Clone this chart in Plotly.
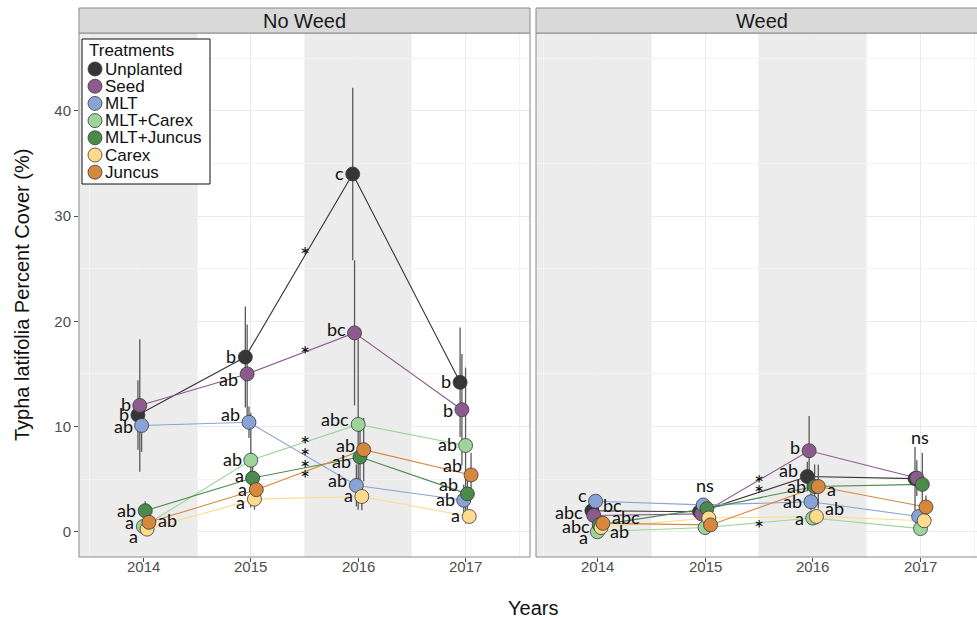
import plotly.graph_objects as go

W, H = 977, 620

years = [2014, 2015, 2016, 2017]
year_labels = ["2014", "2015", "2016", "2017"]
treatments = ["Unplanted", "Seed", "MLT", "MLT+Carex", "MLT+Juncus", "Carex", "Juncus"]
colors = ["#363636", "#8c5b8e", "#8aa3d6", "#9ed49b", "#4a8a4b", "#fcdc8c", "#d6883e"]

# No Weed panel: mean and SE per treatment
nw_unplanted = [11.1, 16.6, 34.0, 14.2]
nw_seed = [12.0, 15.0, 18.9, 11.6]
nw_mlt = [10.1, 10.4, 4.4, 3.0]
nw_mlt_carex = [0.5, 6.8, 10.2, 8.2]
nw_mlt_juncus = [2.0, 5.1, 7.1, 3.6]
nw_carex = [0.25, 3.1, 3.35, 1.45]
nw_juncus = [0.9, 4.0, 7.8, 5.4]

nw_unplanted_se = [3.3, 4.8, 8.2, 5.2]
nw_seed_se = [6.3, 4.7, 6.9, 5.3]
nw_mlt_se = [2.5, 1.5, 2.0, 1.5]
nw_mlt_carex_se = [0.5, 4.5, 8.1, 7.4]
nw_mlt_juncus_se = [0.9, 2.0, 3.0, 1.5]
nw_carex_se = [0.4, 1.0, 1.3, 0.6]
nw_juncus_se = [0.5, 1.5, 3.0, 2.1]

# Weed panel
w_unplanted = [2.0, 1.9, 5.25, 5.05]
w_seed = [1.55, 1.7, 7.7, 5.1]
w_mlt = [2.9, 2.55, 2.85, 1.45]
w_mlt_carex = [0.0, 0.4, 1.3, 0.3]
w_mlt_juncus = [0.65, 2.2, 4.3, 4.5]
w_carex = [0.4, 1.3, 1.45, 1.05]
w_juncus = [0.8, 0.65, 4.3, 2.35]

w_unplanted_se = [0.5, 0.5, 1.4, 3.0]
w_seed_se = [0.5, 0.4, 3.3, 1.7]
w_mlt_se = [0.4, 0.5, 0.8, 0.5]
w_mlt_carex_se = [0.2, 0.3, 0.5, 0.3]
w_mlt_juncus_se = [0.4, 0.6, 2.1, 3.0]
w_carex_se = [0.3, 0.5, 0.5, 0.5]
w_juncus_se = [0.4, 0.5, 2.1, 1.1]

panels = [
    dict(name="No Weed", xa="x", ya="y",
         means=[nw_unplanted, nw_seed, nw_mlt, nw_mlt_carex, nw_mlt_juncus, nw_carex, nw_juncus],
         ses=[nw_unplanted_se, nw_seed_se, nw_mlt_se, nw_mlt_carex_se, nw_mlt_juncus_se, nw_carex_se, nw_juncus_se]),
    dict(name="Weed", xa="x2", ya="y2",
         means=[w_unplanted, w_seed, w_mlt, w_mlt_carex, w_mlt_juncus, w_carex, w_juncus],
         ses=[w_unplanted_se, w_seed_se, w_mlt_se, w_mlt_carex_se, w_mlt_juncus_se, w_carex_se, w_juncus_se]),
]

# significance letters: (treatment, year, text, side, dy_px)
nw_letters = [
    ("Seed", 2014, "b", "L", 0), ("Unplanted", 2014, "b", "L", 0), ("MLT", 2014, "ab", "L", -2),
    ("MLT+Juncus", 2014, "ab", "L", 0), ("MLT+Carex", 2014, "a", "L", 3), ("Carex", 2014, "a", "L", -8),
    ("Juncus", 2014, "ab", "R", 1),
    ("Unplanted", 2015, "b", "L", 0), ("Seed", 2015, "ab", "L", -6), ("MLT", 2015, "ab", "L", 7),
    ("MLT+Carex", 2015, "ab", "L", 0), ("MLT+Juncus", 2015, "a", "L", 2), ("Juncus", 2015, "a", "L", 0),
    ("Carex", 2015, "a", "L", -4),
    ("Unplanted", 2016, "c", "L", 0), ("Seed", 2016, "bc", "L", 3), ("MLT+Carex", 2016, "abc", "L", 4),
    ("Juncus", 2016, "ab", "L", 4), ("MLT+Juncus", 2016, "ab", "L", -5), ("MLT", 2016, "ab", "L", 4),
    ("Carex", 2016, "a", "L", 1),
    ("Unplanted", 2017, "b", "L", 0), ("Seed", 2017, "b", "L", -1), ("MLT+Carex", 2017, "ab", "L", 0),
    ("Juncus", 2017, "ab", "L", 9), ("MLT+Juncus", 2017, "ab", "L", 9), ("MLT", 2017, "ab", "L", 0),
    ("Carex", 2017, "a", "L", 0),
]
w_letters = [
    ("MLT", 2014, "c", "L", 5), ("Seed", 2014, "bc", "R", 9), ("Unplanted", 2014, "abc", "L", -2),
    ("Juncus", 2014, "abc", "R", 5), ("MLT+Juncus", 2014, "abc", "L", -2), ("MLT+Carex", 2014, "a", "L", -6),
    ("Carex", 2014, "ab", "R", -4),
    ("Seed", 2016, "b", "L", 3), ("Unplanted", 2016, "ab", "L", 6), ("MLT+Juncus", 2016, "ab", "L", 0),
    ("Juncus", 2016, "a", "R", -3), ("MLT", 2016, "ab", "L", 0), ("Carex", 2016, "ab", "R", 7),
    ("MLT+Carex", 2016, "a", "L", -1),
]
# "ns" labels: (year, value)
w_ns = [(2015, 4.4), (2017, 9.0)]
# asterisks between years: (x position, value)
nw_stars = [(2015.5, 26.9), (2015.5, 17.5), (2015.5, 9.0), (2015.5, 7.8), (2015.5, 6.7), (2015.5, 5.7)]
w_stars = [(2015.5, 5.25), (2015.5, 4.3), (2015.5, 1.0)]

DODGE = 0.017
def xpos(i, yr):
    return yr + (i - 3) * DODGE

fig = go.Figure()

# lines
for p in panels:
    for i, t in enumerate(treatments):
        fig.add_trace(go.Scatter(
            x=[xpos(i, y) for y in years], y=p["means"][i], mode="lines",
            line=dict(color=colors[i], width=1.1), xaxis=p["xa"], yaxis=p["ya"],
            showlegend=False, hoverinfo="skip"))
# error bars
for p in panels:
    for i, t in enumerate(treatments):
        fig.add_trace(go.Scatter(
            x=[xpos(i, y) for y in years], y=p["means"][i], mode="markers",
            marker=dict(size=2, color="rgba(0,0,0,0)"),
            error_y=dict(type="data", array=p["ses"][i], color="#5a5a5a", thickness=1.3, width=0),
            xaxis=p["xa"], yaxis=p["ya"], showlegend=False, hoverinfo="skip"))
# points
for k, p in enumerate(panels):
    for i, t in enumerate(treatments):
        fig.add_trace(go.Scatter(
            x=[xpos(i, y) for y in years], y=p["means"][i], mode="markers", name=t,
            marker=dict(size=14, color=colors[i], line=dict(color="#3a3a3a", width=0.8)),
            xaxis=p["xa"], yaxis=p["ya"], showlegend=False))

SANS = "Liberation Sans, Arial, sans-serif"
LFONT = dict(family="Lato, Noto Sans, sans-serif", size=18, color="#111111")
SFONT = dict(family="Lato, Noto Sans, sans-serif", size=24, color="#111111")
annotations = []
for letters, p in ((nw_letters, panels[0]), (w_letters, panels[1])):
    for (t, yr, txt, side, dy) in letters:
        i = treatments.index(t)
        val = p["means"][i][years.index(yr)]
        annotations.append(dict(
            x=xpos(i, yr), y=val, xref=p["xa"], yref=p["ya"], text=txt, showarrow=False,
            xanchor="right" if side == "L" else "left", yanchor="middle",
            xshift=-7 if side == "L" else 7, yshift=dy + 1, font=LFONT))
for (yr, val) in w_ns:
    annotations.append(dict(x=yr, y=val, xref="x2", yref="y2", text="ns", showarrow=False,
                            xanchor="center", yanchor="middle", font=LFONT))
for stars, p in ((nw_stars, panels[0]), (w_stars, panels[1])):
    for (xx, val) in stars:
        annotations.append(dict(x=xx, y=val, xref=p["xa"], yref=p["ya"], text="*", showarrow=False,
                                xanchor="center", yanchor="middle", yshift=-6, font=SFONT))

# domains
L0, L1 = 79 / W, 530 / W
R0, R1 = 536 / W, 1.0
Y0, Y1 = 1 - 557 / H, 1 - 33 / H
S1 = 1 - 8 / H

# x tick labels
for xa, p in (("x", 0), ("x2", 1)):
    for yr, lab in zip(years, year_labels):
        annotations.append(dict(x=yr, y=1 - 566 / H, xref=xa, yref="paper", text=lab, showarrow=False,
                                xanchor="center", yanchor="middle",
                                font=dict(family=SANS, size=15, color="#4d4d4d")))

# strips & titles
for (x0, label) in ((L0, "No Weed"), (R0, "Weed")):
    annotations.append(dict(x=x0 + 225.5 / W, y=(Y1 + S1) / 2, xref="paper", yref="paper",
                            text=label, showarrow=False, xanchor="center", yanchor="middle",
                            font=dict(family=SANS, size=20, color="#1a1a1a")))
annotations.append(dict(x=(L0 + 987 / W) / 2, y=1 - 608 / H, xref="paper", yref="paper", text="Years",
                        showarrow=False, xanchor="center", yanchor="middle",
                        font=dict(family=SANS, size=20, color="#111111")))
annotations.append(dict(x=22 / W, y=(Y0 + Y1) / 2, xref="paper", yref="paper",
                        text="Typha latifolia Percent Cover (%)", textangle=-90, showarrow=False,
                        xanchor="center", yanchor="middle",
                        font=dict(family=SANS, size=20, color="#111111")))

# custom legend (drawn on an overlay axis measured in pixels)
LEG_X0, LEG_X1, LEG_Y0, LEG_Y1 = 82, 210, 39, 184
LEG_ROW0, LEG_STEP = 69, 17.2
fig.add_trace(go.Scatter(x=[LEG_X0, LEG_X1, LEG_X1, LEG_X0, LEG_X0], y=[LEG_Y0, LEG_Y0, LEG_Y1, LEG_Y1, LEG_Y0],
                         mode="lines", fill="toself", fillcolor="white", line=dict(color="#111111", width=1),
                         xaxis="x3", yaxis="y3", showlegend=False, hoverinfo="skip"))
fig.add_trace(go.Scatter(x=[95] * len(treatments), y=[LEG_ROW0 + k * LEG_STEP for k in range(len(treatments))],
                         mode="markers", marker=dict(size=14, color=colors, line=dict(color="#3a3a3a", width=0.8)),
                         xaxis="x3", yaxis="y3", showlegend=False, hoverinfo="skip"))
annotations.append(dict(x=87, y=50, xref="x3", yref="y3", text="Treatments", showarrow=False,
                        xanchor="left", yanchor="middle", font=dict(family=SANS, size=17, color="#111111")))
for k, t in enumerate(treatments):
    annotations.append(dict(x=103, y=LEG_ROW0 + k * LEG_STEP, xref="x3", yref="y3", text=t, showarrow=False,
                            xanchor="left", yanchor="middle", font=dict(family=SANS, size=17, color="#111111")))

shapes = []
# panel backgrounds and gray bands
for (x0, x1) in ((L0, L1), (R0, 1.02)):
    shapes.append(dict(type="rect", xref="paper", yref="paper", x0=x0, x1=x1, y0=Y0, y1=Y1,
                       fillcolor="white", line=dict(width=0), layer="below"))
for xa, ya in (("x", "y"), ("x2", "y2")):
    for (a, b) in ((2013.0, 2014.5), (2015.5, 2016.5)):
        shapes.append(dict(type="rect", xref=xa, yref=ya, x0=a, x1=b, y0=-10, y1=60,
                           fillcolor="#ececec", line=dict(width=0), layer="below"))
# panel borders and strip boxes
for (x0, x1) in ((L0, L1), (R0, 1.02)):
    shapes.append(dict(type="rect", xref="paper", yref="paper", x0=x0, x1=x1, y0=Y0, y1=Y1,
                       line=dict(color="#8a8a8a", width=1), fillcolor="rgba(0,0,0,0)", layer="above"))
    shapes.append(dict(type="rect", xref="paper", yref="paper", x0=x0, x1=x1, y0=Y1, y1=S1,
                       line=dict(color="#8a8a8a", width=1), fillcolor="#d9d9d9", layer="above"))

xrange_l = [2013.4, 2017.6]
xrange_r = [2013.43, 2013.43 + (977 - 536) / 107.7]
yrange = [-2.4, 47.4]

axis_common = dict(showline=False, zeroline=False, gridcolor="#ebebeb", gridwidth=1,
                   tickfont=dict(family=SANS, size=15, color="#4d4d4d"),
                   ticks="outside", ticklen=4, tickcolor="#4d4d4d", tickwidth=1)
minor_x = dict(tickvals=[2013.5, 2014.5, 2015.5, 2016.5, 2017.5], showgrid=True, gridcolor="#f3f3f3", ticks="")
minor_y = dict(tickvals=[5, 15, 25, 35, 45], showgrid=True, gridcolor="#f3f3f3", ticks="")
fig.update_layout(
    width=W, height=H, margin=dict(l=0, r=0, t=0, b=0),
    paper_bgcolor="white", plot_bgcolor="rgba(0,0,0,0)", showlegend=False,
    xaxis=dict(domain=[L0, L1], range=xrange_l, tickvals=years, showticklabels=False, anchor="y",
               minor=minor_x, **axis_common),
    xaxis2=dict(domain=[R0, R1], range=xrange_r, tickvals=years, showticklabels=False, anchor="y2",
                minor=minor_x, **axis_common),
    yaxis=dict(domain=[Y0, Y1], range=yrange, tickvals=[0, 10, 20, 30, 40], anchor="x",
               minor=minor_y, **axis_common),
    yaxis2=dict(domain=[Y0, Y1], range=yrange, tickvals=[0, 10, 20, 30, 40], anchor="x2", matches="y",
                showticklabels=False, showline=False, zeroline=False, gridcolor="#ebebeb", ticks="",
                minor=minor_y),
    xaxis3=dict(domain=[0, 1], range=[0, W], visible=False, anchor="y3", fixedrange=True),
    yaxis3=dict(domain=[0, 1], range=[H, 0], visible=False, anchor="x3", fixedrange=True),
    annotations=annotations, shapes=shapes,
)

fig.write_html("out.html")
